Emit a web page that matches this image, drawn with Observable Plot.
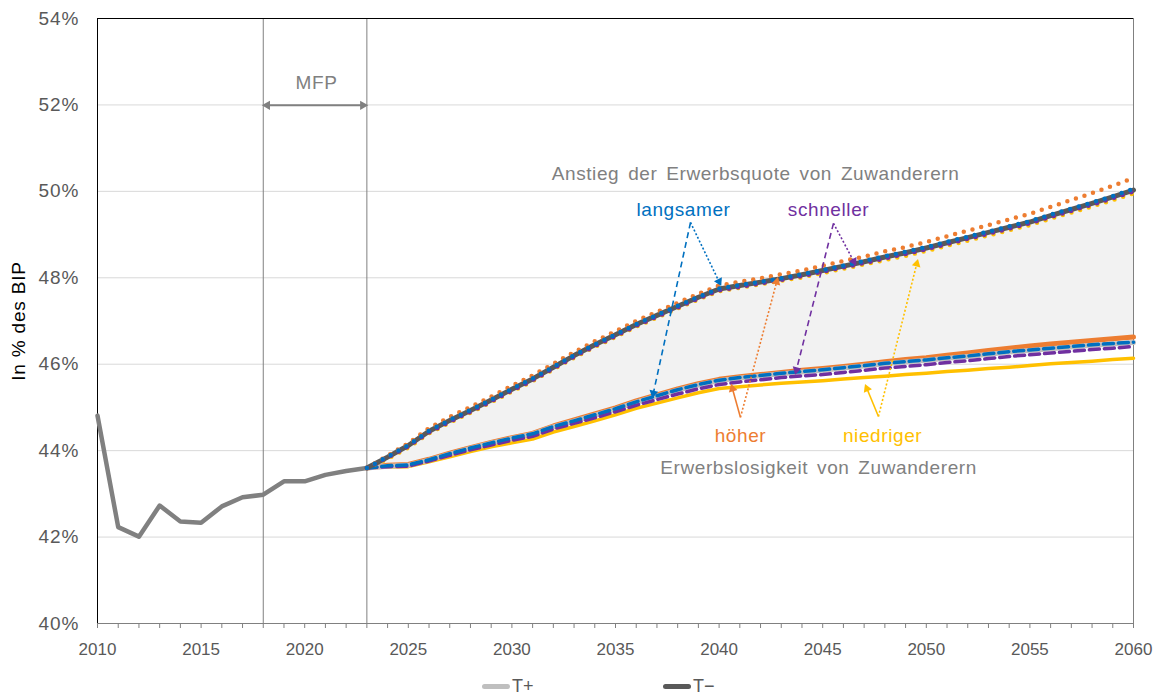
<!DOCTYPE html>
<html><head><meta charset="utf-8">
<script src="https://cdn.jsdelivr.net/npm/d3@7"></script>
<script src="https://cdn.jsdelivr.net/npm/@observablehq/plot@0.6"></script>
<style>
body{margin:0;background:#fff;font-family:"Liberation Sans",Arial,sans-serif;}
#legend{position:relative;width:1168px;height:28px;}
.lg{position:absolute;top:7px;height:22px;display:flex;align-items:center;font-size:18px;color:#595959;}
.lg span.sw{display:inline-block;width:28px;height:5px;border-radius:3px;margin-right:2px;}
</style></head>
<body><div id="chart"></div><div id="legend"></div>
<script>
// ---------- data ----------
const histYears = [2010,2011,2012,2013,2014,2015,2016,2017,2018,2019,2020,2021,2022,2023];
const histValues = [44.81,42.23,42.01,42.73,42.36,42.33,42.71,42.92,42.98,43.29,43.29,43.44,43.53,43.60];

const projYears = [2023,2024,2025,2026,2027,2028,2029,2030,2031,2032,2033,2034,2035,2036,2037,2038,2039,2040,2041,2042,2043,2044,2045,2046,2047,2048,2049,2050,2051,2052,2053,2054,2055,2056,2057,2058,2059,2060];

// upper band: Anstieg der Erwerbsquote von Zuwanderern
const tMinus = [43.60,43.85,44.12,44.45,44.70,44.93,45.17,45.42,45.66,45.93,46.20,46.45,46.68,46.92,47.13,47.34,47.55,47.74,47.82,47.90,47.98,48.07,48.17,48.27,48.37,48.48,48.58,48.69,48.81,48.93,49.05,49.17,49.29,49.44,49.58,49.72,49.87,50.03];
const upHoeher = [43.60,43.88,44.17,44.52,44.78,45.01,45.25,45.50,45.74,46.01,46.28,46.53,46.76,47.00,47.21,47.42,47.63,47.82,47.91,47.99,48.08,48.17,48.28,48.39,48.49,48.61,48.71,48.83,48.96,49.09,49.22,49.35,49.48,49.64,49.80,49.96,50.13,50.31];
const upLangsamer = [43.60,43.86,44.13,44.46,44.71,44.94,45.18,45.43,45.67,45.94,46.21,46.46,46.69,46.93,47.14,47.35,47.56,47.75,47.83,47.91,47.99,48.08,48.18,48.28,48.39,48.50,48.60,48.71,48.83,48.95,49.07,49.19,49.31,49.46,49.60,49.74,49.89,50.06];
const upSchneller = [43.60,43.84,44.10,44.42,44.67,44.90,45.14,45.39,45.63,45.90,46.17,46.42,46.65,46.89,47.10,47.31,47.52,47.71,47.79,47.87,47.95,48.04,48.14,48.24,48.34,48.45,48.55,48.66,48.78,48.90,49.02,49.14,49.26,49.41,49.55,49.69,49.84,50.00];
const upNiedriger = [43.60,43.81,44.07,44.40,44.65,44.88,45.12,45.37,45.61,45.88,46.15,46.40,46.63,46.87,47.08,47.29,47.50,47.69,47.77,47.85,47.93,48.01,48.11,48.21,48.31,48.41,48.51,48.62,48.74,48.86,48.98,49.10,49.22,49.37,49.51,49.65,49.80,49.95];

// lower band: Erwerbslosigkeit von Zuwanderern
const tPlus = [43.60,43.64,43.66,43.78,43.92,44.05,44.17,44.28,44.38,44.55,44.68,44.82,44.96,45.12,45.26,45.40,45.52,45.62,45.68,45.73,45.78,45.82,45.86,45.91,45.96,46.01,46.05,46.09,46.14,46.18,46.23,46.28,46.32,46.36,46.40,46.44,46.47,46.50];
const loHoeher = [43.60,43.66,43.68,43.80,43.94,44.07,44.19,44.30,44.40,44.57,44.71,44.85,44.99,45.15,45.29,45.43,45.55,45.65,45.71,45.76,45.81,45.86,45.90,45.95,46.00,46.06,46.11,46.15,46.21,46.26,46.32,46.37,46.42,46.47,46.51,46.55,46.59,46.63];
const loLangsamer = [43.60,43.65,43.67,43.79,43.93,44.06,44.18,44.29,44.39,44.56,44.69,44.83,44.97,45.13,45.27,45.41,45.53,45.63,45.69,45.74,45.79,45.83,45.87,45.92,45.97,46.02,46.06,46.10,46.15,46.19,46.24,46.29,46.33,46.37,46.41,46.45,46.48,46.51];
const loSchneller = [43.60,43.63,43.64,43.76,43.89,44.02,44.13,44.24,44.33,44.50,44.63,44.76,44.90,45.05,45.18,45.31,45.43,45.53,45.59,45.64,45.69,45.73,45.76,45.81,45.86,45.91,45.95,45.99,46.04,46.08,46.13,46.18,46.22,46.26,46.30,46.34,46.37,46.41];
const loNiedriger = [43.60,43.62,43.63,43.74,43.86,43.98,44.09,44.18,44.27,44.43,44.56,44.69,44.83,44.98,45.10,45.22,45.34,45.44,45.48,45.52,45.56,45.59,45.62,45.66,45.69,45.72,45.76,45.79,45.83,45.86,45.90,45.93,45.97,46.01,46.04,46.07,46.11,46.14];

const yTicks = [40,42,44,46,48,50,52,54];
const gridTicks = [42,44,46,48,50,52];
const xLabelYears = [2010,2015,2020,2025,2030,2035,2040,2045,2050,2055,2060];
const xTickYears = d3.range(2010, 2061);
const mfpYears = [2018, 2023];

const legendLabels = ["T+", "T\u2212"];

// annotation texts (data coordinates)
const labels = [
  {text:"Anstieg der Erwerbsquote von Zuwanderern", x:2041.76, y:50.41, color:"#808080"},
  {text:"langsamer", x:2038.28, y:49.56, color:"#0070C0"},
  {text:"schneller", x:2045.28, y:49.56, color:"#7030A0"},
  {text:"h\u00f6her", x:2041.03, y:44.35, color:"#ED7D31"},
  {text:"niedriger", x:2047.89, y:44.35, color:"#FFC000"},
  {text:"Erwerbslosigkeit von Zuwanderern", x:2044.80, y:43.61, color:"#808080"}
];
// annotation arrows: from (x1,y1) to tip (x2,y2)
const arrows = [
  {x1:2038.62,y1:49.28,x2:2036.79,y2:45.25,color:"#0070C0",style:"dash"},
  {x1:2038.62,y1:49.28,x2:2040.07,y2:47.84,color:"#0070C0",style:"dot"},
  {x1:2045.52,y1:49.26,x2:2043.69,y2:45.79,color:"#7030A0",style:"dash"},
  {x1:2045.52,y1:49.26,x2:2046.58,y2:48.31,color:"#7030A0",style:"dot"},
  {x1:2041.03,y1:44.77,x2:2040.60,y2:45.51,color:"#ED7D31",style:"solid"},
  {x1:2041.03,y1:44.77,x2:2042.82,y2:47.98,color:"#ED7D31",style:"dot"},
  {x1:2047.69,y1:44.79,x2:2047.07,y2:45.51,color:"#FFC000",style:"solid"},
  {x1:2047.69,y1:44.79,x2:2049.58,y2:48.40,color:"#FFC000",style:"dot"}
];
const mfpLabel = {text:"MFP", x:2020.57, y:52.5};
const mfpArrowY = 51.99;

// ---------- layout ----------
const W=1168, H=668, ML=97, MR=35, MT=18, MB=45;
const kx=(W-ML-MR)/(2060-2010), ky=(H-MT-MB)/(54-40);
function head(x1,y1,x2,y2,back){
  const dx=(x2-x1)*kx, dy=-(y2-y1)*ky, L=Math.hypot(dx,dy);
  const ux=dx/L, uy=dy/L;
  return {x:x2-ux*back/kx, y:y2+uy*back/ky, angle:Math.atan2(ux,-uy)*180/Math.PI};
}

const rows = (vals) => projYears.map((year,i)=>({year, v:vals[i]}));
const hist = histYears.map((year,i)=>({year, v:histValues[i]}));
const band = projYears.map((year,i)=>({year, lo:tPlus[i], hi:tMinus[i]}));

const dotted = (vals,color) => Plot.line(rows(vals),{x:"year",y:"v",stroke:color,strokeWidth:4.5,strokeDasharray:"0,9",strokeLinecap:"round"});
const dashed = (vals,color) => Plot.line(rows(vals),{x:"year",y:"v",stroke:color,strokeWidth:3.5,strokeDasharray:"10,5"});
const solid = (vals,color,w) => Plot.line(rows(vals),{x:"year",y:"v",stroke:color,strokeWidth:w});

const arrowMarks = [];
for (const a of arrows) {
  const h = head(a.x1,a.y1,a.x2,a.y2,3.5);
  const shaft = head(a.x1,a.y1,a.x2,a.y2,5);
  const opts = {x1:"x1",y1:"y1",x2:"x2",y2:"y2",stroke:a.color,strokeWidth:1.6};
  if (a.style==="dash") opts.strokeDasharray="6,4";
  if (a.style==="dot") opts.strokeDasharray="2,2";
  arrowMarks.push(Plot.link([{x1:a.x1,y1:a.y1,x2:shaft.x,y2:shaft.y}],opts));
  arrowMarks.push(Plot.dot([h],{x:"x",y:"y",rotate:"angle",symbol:"triangle2",r:4.2,fill:a.color,stroke:"none"}));
}
const mfpHeads = [
  head(mfpYears[1],mfpArrowY,mfpYears[0],mfpArrowY,4),
  head(mfpYears[0],mfpArrowY,mfpYears[1],mfpArrowY,4)
];

const chart = Plot.plot({
  width:W, height:H, marginLeft:ML, marginRight:MR, marginTop:MT, marginBottom:MB,
  style:{fontFamily:'"Liberation Sans",Arial,sans-serif', fontSize:"17px", color:"#595959", background:"#fff"},
  x:{domain:[2010,2060]},
  y:{domain:[40,54]},
  marks:[
    Plot.ruleY(gridTicks,{stroke:"#D9D9D9",strokeWidth:1}),
    Plot.areaY(band,{x:"year",y1:"lo",y2:"hi",fill:"#F2F2F2"}),
    Plot.ruleX(mfpYears,{stroke:"#808080",strokeWidth:1}),
    Plot.frame({stroke:"#808080",strokeWidth:1}),
    Plot.ruleX([2010],{stroke:"#000",strokeWidth:1}),
    Plot.ruleY([54],{stroke:"#000",strokeWidth:1}),
    Plot.axisX({ticks:xTickYears,tickSize:5,stroke:"#808080",tickFormat:()=>""}),
    Plot.axisX({ticks:xLabelYears,tickSize:0,tickPadding:19,tickFormat:d=>String(d),fontSize:17,fill:"#595959",label:null}),
    Plot.axisY({ticks:yTicks,tickSize:0,tickPadding:18,tickFormat:d=>d+"%",fontSize:19,fill:"#595959",label:null}),
    Plot.text(["In % des BIP"],{frameAnchor:"left",textAnchor:"middle",dx:-79,rotate:-90,fontSize:19,fill:"#000"}),
    // history
    Plot.line(hist,{x:"year",y:"v",stroke:"#808080",strokeWidth:4.5}),
    // lower band
    solid(loNiedriger,"#FFC000",3.5),
    solid(loHoeher,"#ED7D31",5),
    solid(tPlus,"#BFBFBF",5),
    dashed(loSchneller,"#7030A0"),
    dashed(loLangsamer,"#0070C0"),
    // upper band
    dotted(upNiedriger,"#FFC000"),
    solid(tMinus,"#595959",5),
    dotted(upHoeher,"#ED7D31"),
    dotted(upSchneller,"#7030A0"),
    dotted(upLangsamer,"#0070C0"),
    // annotations
    ...arrowMarks,
    Plot.link([{x1:mfpHeads[0].x,x2:mfpHeads[1].x,y:mfpArrowY}],{x1:"x1",x2:"x2",y1:"y",y2:"y",stroke:"#808080",strokeWidth:2}),
    Plot.dot(mfpHeads,{x:"x",y:"y",rotate:"angle",symbol:"triangle2",r:4.5,fill:"#808080",stroke:"none"}),
    Plot.text([mfpLabel],{x:"x",y:"y",text:"text",fill:"#808080",fontSize:19}),
    Plot.text(labels,{x:"x",y:"y",text:"text",fill:"color",fontSize:19})
  ]
});
document.getElementById("chart").appendChild(chart);
// letter/word spacing to match the reference's wider type
const spaced = new Set(labels.map(d=>d.text).concat([mfpLabel.text]));
chart.querySelectorAll("text").forEach(t=>{
  const s = t.textContent;
  if (spaced.has(s)) { t.style.letterSpacing="0.6px"; if (s.includes(" ")) t.style.wordSpacing="3px"; }
  else if (/%$/.test(s)) t.style.letterSpacing="1px";
  else if (s === "In % des BIP") t.style.letterSpacing="0.8px";
});

// legend
const lg = document.getElementById("legend");
const lgItems = [{label:legendLabels[0],color:"#BFBFBF",left:482},{label:legendLabels[1],color:"#595959",left:663}];
for (const it of lgItems) {
  const d = document.createElement("div");
  d.className="lg"; d.style.left=it.left+"px";
  d.innerHTML = `<span class="sw" style="background:${it.color}"></span>${it.label}`;
  lg.appendChild(d);
}
</script>
</body></html>
